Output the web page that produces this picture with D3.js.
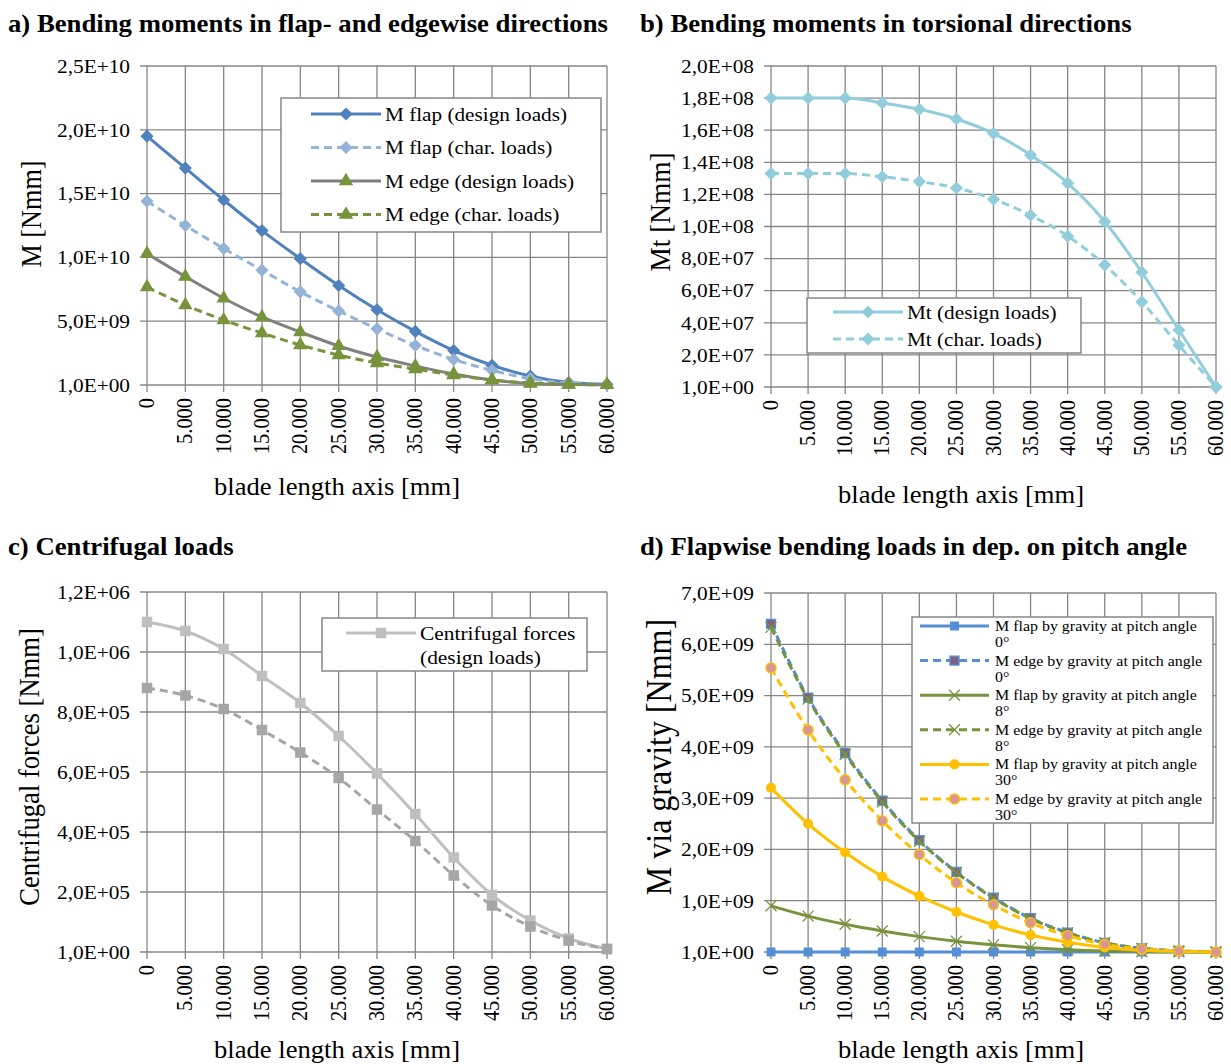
<!DOCTYPE html>
<html>
<head>
<meta charset="utf-8">
<script src="https://cdn.jsdelivr.net/npm/d3@7"></script>
<style>
  body { margin: 0; background: #fff; }
  svg text { font-family: "Liberation Serif", "Times New Roman", serif; fill: #000; }
</style>
</head>
<body>
<svg id="chart" width="1231" height="1064"></svg>
<script>
// blade positions [mm]
const xs = [0, 5000, 10000, 15000, 20000, 25000, 30000, 35000, 40000, 45000, 50000, 55000, 60000];

// a) bending moments flap/edge [Nmm]
const flapDesign = [1.95e10, 1.70e10, 1.45e10, 1.21e10, 0.99e10, 0.78e10, 0.59e10, 0.42e10, 0.27e10, 0.155e10, 0.07e10, 0.02e10, 0.005e10];
const flapChar   = [1.44e10, 1.25e10, 1.07e10, 0.90e10, 0.73e10, 0.58e10, 0.44e10, 0.31e10, 0.20e10, 0.115e10, 0.05e10, 0.015e10, 0.004e10];
const edgeDesign = [1.03e10, 0.85e10, 0.68e10, 0.533e10, 0.415e10, 0.306e10, 0.219e10, 0.149e10, 0.086e10, 0.039e10, 0.012e10, 0.004e10, 0.001e10];
const edgeChar   = [0.768e10, 0.627e10, 0.509e10, 0.407e10, 0.313e10, 0.235e10, 0.172e10, 0.125e10, 0.078e10, 0.039e10, 0.015e10, 0.005e10, 0.001e10];

// b) torsional moments [Nmm]
const mtDesign = [1.80e8, 1.80e8, 1.80e8, 1.77e8, 1.73e8, 1.67e8, 1.58e8, 1.445e8, 1.27e8, 1.03e8, 0.715e8, 0.355e8, 0];
const mtChar   = [1.33e8, 1.33e8, 1.33e8, 1.31e8, 1.28e8, 1.24e8, 1.17e8, 1.07e8, 0.94e8, 0.76e8, 0.53e8, 0.26e8, 0];

// c) centrifugal forces
const cfDesign = [1.10e6, 1.07e6, 1.01e6, 0.92e6, 0.83e6, 0.72e6, 0.595e6, 0.46e6, 0.315e6, 0.19e6, 0.105e6, 0.045e6, 0.01e6];
const cfChar   = [0.88e6, 0.855e6, 0.81e6, 0.74e6, 0.665e6, 0.58e6, 0.475e6, 0.37e6, 0.255e6, 0.155e6, 0.085e6, 0.038e6, 0.01e6];

// d) gravity moments at pitch angles
const flap0  = [0, 0, 0, 0, 0, 0, 0, 0, 0, 0, 0, 0, 0];
const edge0  = [6.40e9, 4.96e9, 3.88e9, 2.95e9, 2.18e9, 1.56e9, 1.06e9, 0.66e9, 0.38e9, 0.18e9, 0.07e9, 0.02e9, 0];
const flap8  = [0.90e9, 0.70e9, 0.54e9, 0.41e9, 0.30e9, 0.21e9, 0.14e9, 0.085e9, 0.045e9, 0.02e9, 0.008e9, 0.002e9, 0];
const edge8  = [6.33e9, 4.93e9, 3.85e9, 2.93e9, 2.16e9, 1.55e9, 1.05e9, 0.65e9, 0.37e9, 0.18e9, 0.07e9, 0.02e9, 0];
const flap30 = [3.20e9, 2.50e9, 1.94e9, 1.47e9, 1.09e9, 0.78e9, 0.53e9, 0.33e9, 0.19e9, 0.09e9, 0.035e9, 0.01e9, 0];
const edge30 = [5.54e9, 4.33e9, 3.36e9, 2.56e9, 1.90e9, 1.35e9, 0.92e9, 0.57e9, 0.32e9, 0.15e9, 0.06e9, 0.02e9, 0];

const svg = d3.select('#chart');
const grid = '#868686';
const SX = 1.1; // source picture is a bit wider than tall

function fmtE(v) {
    if (v === 0) return '1,0E+00';
    const s = v.toExponential(1).split('e');
    const exp = +s[1];
    return s[0].replace('.', ',') + 'E' + (exp < 0 ? '-' : '+') + String(Math.abs(exp)).padStart(2, '0');
}
function fmtX(v) {
    return v === 0 ? '0' : d3.format(',')(v).replace(/,/g, '.');
}

// text with a small horizontal stretch
function txt(g, x, y, str, size, o = {}) {
    return g.append('text')
        .attr('transform', `translate(${x},${y}) scale(${SX},1)` + (o.rot ? ` rotate(${o.rot})` : ''))
        .attr('text-anchor', o.anchor || 'start')
        .attr('dy', o.dy || null)
        .style('font-size', size + 'px')
        .style('font-weight', o.bold ? 'bold' : null)
        .text(str);
}

function markerPath(type, size) {
    const sym = {diamond: d3.symbolDiamond2, triangle: d3.symbolTriangle, square: d3.symbolSquare,
                 circle: d3.symbolCircle, x: d3.symbolX, star: d3.symbolCross}[type];
    return d3.symbol().type(sym).size(size)();
}

function drawPanel(p) {
    const g = svg.append('g');
    const x = d3.scaleLinear().domain([0, 60000]).range(p.xr);
    const y = d3.scaleLinear().domain([0, p.ymax]).range(p.yr);
    const yt = d3.range(0, p.ymax + p.ystep / 2, p.ystep);

    // grid
    g.selectAll('.vg').data(xs).enter().append('line')
        .attr('x1', d => x(d)).attr('x2', d => x(d))
        .attr('y1', p.yr[0] + 7).attr('y2', p.yr[1])
        .attr('stroke', grid).attr('stroke-width', 1.3);
    g.selectAll('.hg').data(yt).enter().append('line')
        .attr('x1', p.xr[0] - 7).attr('x2', p.xr[1])
        .attr('y1', d => y(d)).attr('y2', d => y(d))
        .attr('stroke', grid).attr('stroke-width', 1.3);

    // tick labels
    yt.forEach(d => txt(g, p.xr[0] - 17, y(d), fmtE(d), 19.4, {anchor: 'end', dy: '0.35em'}));
    xs.forEach(d => txt(g, x(d) + 7, p.yr[0] + 13, fmtX(d), 20.4, {anchor: 'end', rot: -90}));

    // axis titles
    txt(g, p.ytx, p.yty, p.ytitle, p.yfs, {anchor: 'middle', rot: -90});
    txt(g, p.xtx, p.xty, 'blade length axis [mm]', 24.2, {anchor: 'middle'});
    txt(g, p.tx, p.ty, p.title, 24.3, {bold: true});

    const line = d3.line().x((d, i) => x(xs[i])).y(d => y(d)).curve(d3.curveMonotoneX);

    // series
    p.series.forEach(s => {
        g.append('path').datum(s.values)
            .attr('d', line).attr('fill', 'none')
            .attr('stroke', s.color).attr('stroke-width', s.width || 3)
            .attr('stroke-dasharray', s.dash ? '8,5' : null);
        g.selectAll(null).data(s.values).enter().append('path')
            .attr('d', markerPath(s.marker, s.msize || 90))
            .attr('transform', (d, i) => `translate(${x(xs[i])},${y(d)})`)
            .attr('fill', s.mfill || s.mcolor || s.color)
            .attr('stroke', s.mstroke || 'none').attr('stroke-width', s.mstroke ? 1.3 : 0);
    });

    // legend
    const L = p.legend;
    g.append('rect').attr('x', L.x).attr('y', L.y).attr('width', L.w).attr('height', L.h)
        .attr('fill', '#fff').attr('stroke', grid).attr('stroke-width', 1.5);
    L.items.forEach((it, k) => {
        const s = p.series[it.s];
        const ly = L.y + L.top + k * L.step;
        g.append('line').attr('x1', L.x + L.lx0).attr('x2', L.x + L.lx1)
            .attr('y1', ly).attr('y2', ly)
            .attr('stroke', s.color).attr('stroke-width', s.width || 3)
            .attr('stroke-dasharray', s.dash ? '8,5' : null);
        g.append('path').attr('d', markerPath(s.marker, s.msize || 90))
            .attr('transform', `translate(${L.x + (L.lx0 + L.lx1) / 2},${ly})`)
            .attr('fill', s.mfill || s.mcolor || s.color)
            .attr('stroke', s.mstroke || 'none').attr('stroke-width', s.mstroke ? 1.3 : 0);
        it.text.forEach((t, j) => txt(g, L.x + L.tx, ly + j * L.lh, t, L.fs, {dy: '0.35em'}));
    });
}

drawPanel({
    title: 'a) Bending moments in flap- and edgewise directions', tx: 8, ty: 32,
    xr: [147, 607], yr: [385, 66], ymax: 2.5e10, ystep: 5e9,
    ytitle: 'M [Nmm]', ytx: 41, yty: 214, yfs: 26.2, xtx: 337, xty: 495,
    series: [
        {values: flapDesign, color: '#4F81BD', marker: 'diamond', msize: 110},
        {values: flapChar, color: '#95B3D7', dash: true, marker: 'diamond', msize: 110},
        {values: edgeDesign, color: '#808080', mcolor: '#77933C', marker: 'triangle', msize: 90},
        {values: edgeChar, color: '#77933C', dash: true, marker: 'triangle', msize: 90}
    ],
    legend: {x: 281, y: 98, w: 320, h: 134, top: 16, step: 33.5, lx0: 30, lx1: 100, tx: 104, fs: 19.3, lh: 0,
        items: [{s: 0, text: ['M flap (design loads)']}, {s: 1, text: ['M flap (char. loads)']},
                {s: 2, text: ['M edge (design loads)']}, {s: 3, text: ['M edge (char. loads)']}]}
});

drawPanel({
    title: 'b) Bending moments in torsional directions', tx: 640, ty: 32,
    xr: [771, 1216], yr: [387, 66], ymax: 2e8, ystep: 2e7,
    ytitle: 'Mt [Nmm]', ytx: 670, yty: 212, yfs: 27.3, xtx: 961, xty: 503,
    series: [
        {values: mtDesign, color: '#92CDDC', marker: 'diamond', msize: 110},
        {values: mtChar, color: '#92CDDC', dash: true, marker: 'diamond', msize: 110}
    ],
    legend: {x: 807, y: 298, w: 274, h: 55, top: 14, step: 27, lx0: 26, lx1: 96, tx: 100, fs: 19.3, lh: 0,
        items: [{s: 0, text: ['Mt (design loads)']}, {s: 1, text: ['Mt (char. loads)']}]}
});

drawPanel({
    title: 'c) Centrifugal loads', tx: 8, ty: 555,
    xr: [147, 607], yr: [952, 592], ymax: 1.2e6, ystep: 2e5,
    ytitle: 'Centrifugal forces [Nmm]', ytx: 39, yty: 767, yfs: 26.6, xtx: 337, xty: 1058,
    series: [
        {values: cfDesign, color: '#BFBFBF', marker: 'square', msize: 110},
        {values: cfChar, color: '#A6A6A6', dash: true, marker: 'square', msize: 110}
    ],
    legend: {x: 322, y: 618, w: 265, h: 53, top: 15, step: 0, lx0: 24, lx1: 94, tx: 98, fs: 19.5, lh: 24,
        items: [{s: 0, text: ['Centrifugal forces', '(design loads)']}]}
});

drawPanel({
    title: 'd) Flapwise bending loads in dep. on pitch angle', tx: 640, ty: 555,
    xr: [771, 1216], yr: [952, 593], ymax: 7e9, ystep: 1e9,
    ytitle: 'M via gravity [Nmm]', ytx: 671, yty: 757, yfs: 32, xtx: 961, xty: 1058,
    series: [
        {values: flap0, color: '#558ED5', marker: 'square', msize: 80},
        {values: edge0, color: '#558ED5', dash: true, marker: 'square', msize: 80, mfill: '#7F6084', mstroke: '#558ED5'},
        {values: flap8, color: '#77933C', marker: 'x', msize: 80, mstroke: '#77933C'},
        {values: edge8, color: '#77933C', dash: true, marker: 'x', msize: 80, mstroke: '#77933C'},
        {values: flap30, color: '#FFC000', marker: 'circle', msize: 80},
        {values: edge30, color: '#FFC000', dash: true, marker: 'circle', msize: 80, mfill: '#D99694', mstroke: '#FFC000'}
    ],
    legend: {x: 912, y: 617, w: 301, h: 206, top: 9, step: 34.6, lx0: 8, lx1: 77, tx: 83, fs: 14.5, lh: 16,
        items: [{s: 0, text: ['M flap by gravity at pitch angle', '0°']},
                {s: 1, text: ['M edge by gravity at pitch angle', '0°']},
                {s: 2, text: ['M flap by gravity at pitch angle', '8°']},
                {s: 3, text: ['M edge by gravity at pitch angle', '8°']},
                {s: 4, text: ['M flap by gravity at pitch angle', '30°']},
                {s: 5, text: ['M edge by gravity at pitch angle', '30°']}]}
});
</script>
</body>
</html>
